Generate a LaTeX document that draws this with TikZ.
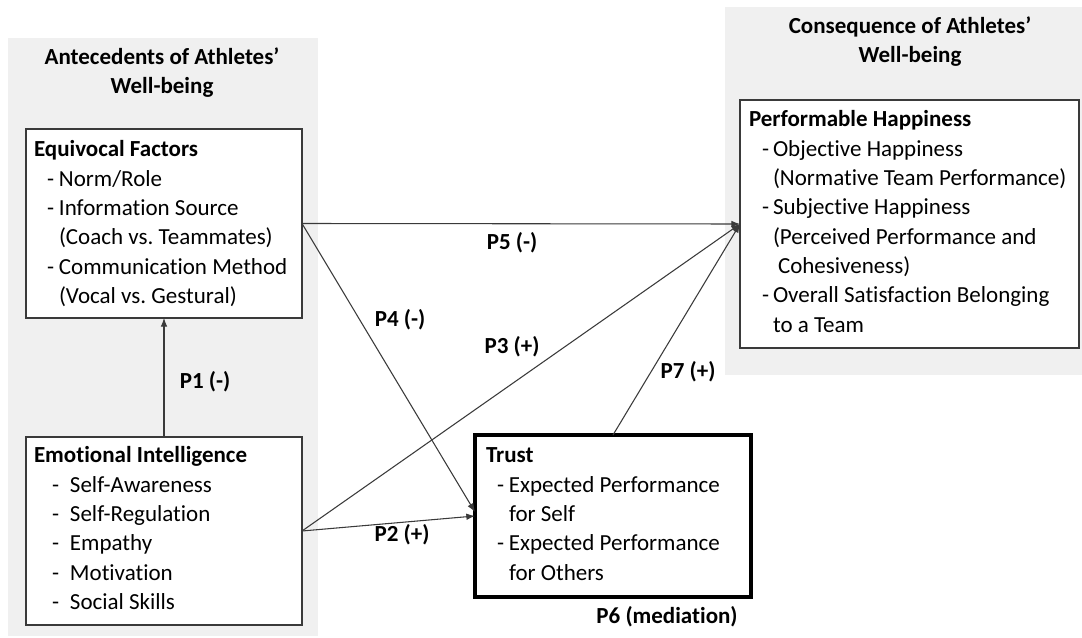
\documentclass[tikz,border=0pt]{standalone}
\usepackage{fontspec}
\setmainfont{Carlito}[Ligatures={NoCommon}]
\usetikzlibrary{arrows.meta,calc}
\definecolor{panelgray}{HTML}{F0F0F0}
\definecolor{linegray}{HTML}{3A3A3A}
\frenchspacing
\newlength\pxu \setlength\pxu{0.75pt}
\newcommand\ditem[3]{\hspace*{#1\pxu}\makebox[#2\pxu][l]{-}#3}
\newcommand\contl[2]{\hspace*{#1\pxu}#2}
\newcommand\firststrut{\rule{0pt}{14pt}}
\begin{document}
\begin{tikzpicture}[x=0.75pt,y=-0.75pt,
  box/.style={draw=linegray, line width=1pt, fill=white, inner sep=0pt, outer sep=0pt},
  boxtext/.style={anchor=north west, align=left, inner sep=0pt, outer sep=0pt, font=\fontsize{17.25}{21.975}\selectfont},
  paneltitle/.style={anchor=north, align=center, inner sep=0pt, font=\bfseries\fontsize{17.25}{22}\selectfont},
  lab/.style={font=\bfseries\fontsize{17.25}{21}\selectfont, inner sep=0pt},
  conn/.style={draw=linegray, line width=0.8pt, -{Latex[length=6.5pt,width=5pt]}}]
\useasboundingbox (0,0) rectangle (1082,638);
% background panels
\fill[panelgray] (8,38) rectangle (318,636);
\fill[panelgray] (725,7) rectangle (1082,375);
% panel titles
\node[paneltitle] (ltitle) at (162,45.3) {\firststrut Antecedents of Athletes’\\Well-being};
\node[paneltitle] (rtitle) at (910,14.3) {\firststrut Consequence of Athletes’\\Well-being};
% boxes
\node[box, minimum width=207pt, minimum height=141.75pt] (eq) at (164,223.5) {};
\node[box, minimum width=207pt, minimum height=141pt] (ei) at (164,531) {};
\node[box, line width=2.5pt, draw=black, minimum width=207pt, minimum height=121.5pt] (trust) at (613,516) {};
\node[box, minimum width=254.25pt, minimum height=186pt] (ph) at (909.5,224) {};
% box texts
\node[boxtext] (eqtext) at (34,138.3) {\firststrut\textbf{Equivocal Factors}\\
  \ditem{13}{12}{Norm/Role}\\
  \ditem{13}{12}{Information Source}\\
  \contl{25}{(Coach vs. Teammates)}\\
  \ditem{13}{12}{Communication Method}\\
  \contl{25}{(Vocal vs. Gestural)}};
\node[boxtext] (eitext) at (34,444.3) {\firststrut\textbf{Emotional Intelligence}\\
  \ditem{18}{18}{Self-Awareness}\\
  \ditem{18}{18}{Self-Regulation}\\
  \ditem{18}{18}{Empathy}\\
  \ditem{18}{18}{Motivation}\\
  \ditem{18}{18}{Social Skills}};
\node[boxtext] (trusttext) at (486,444.3) {\firststrut\textbf{Trust}\\
  \ditem{11}{12}{Expected Performance}\\
  \contl{23}{for Self}\\
  \ditem{11}{12}{Expected Performance}\\
  \contl{23}{for Others}};
\node[boxtext] (phtext) at (749,108.3) {\firststrut\textbf{Performable Happiness}\\
  \ditem{13}{11}{Objective Happiness}\\
  \contl{24}{(Normative Team Performance)}\\
  \ditem{13}{11}{Subjective Happiness}\\
  \contl{24}{(Perceived Performance and}\\
  \contl{29}{Cohesiveness)}\\
  \ditem{13}{11}{Overall Satisfaction Belonging}\\
  \contl{24}{to a Team}};
% connectors
\draw[conn] (ei.north) -- (eq.south);
\draw[conn] (eq.east) -- (ph.west);
\draw[conn] (eq.east) -- ($(trust.west)+(0,-4)$);
\draw[conn] (ei.east) -- (trust.west);
\draw[conn] (ei.east) -- (ph.west);
\draw[conn] (trust.north) -- (ph.west);
% labels
\node[lab] (p1) at (205,382) {P1 (-)};
\node[lab] (p2) at (402,535) {P2 (+)};
\node[lab] (p3) at (512,347) {P3 (+)};
\node[lab] (p4) at (400,320) {P4 (-)};
\node[lab] (p5) at (512,243) {P5 (-)};
\node[lab] (p6) at (667,617) {P6 (mediation)};
\node[lab] (p7) at (688,372) {P7 (+)};
\end{tikzpicture}
\end{document}
